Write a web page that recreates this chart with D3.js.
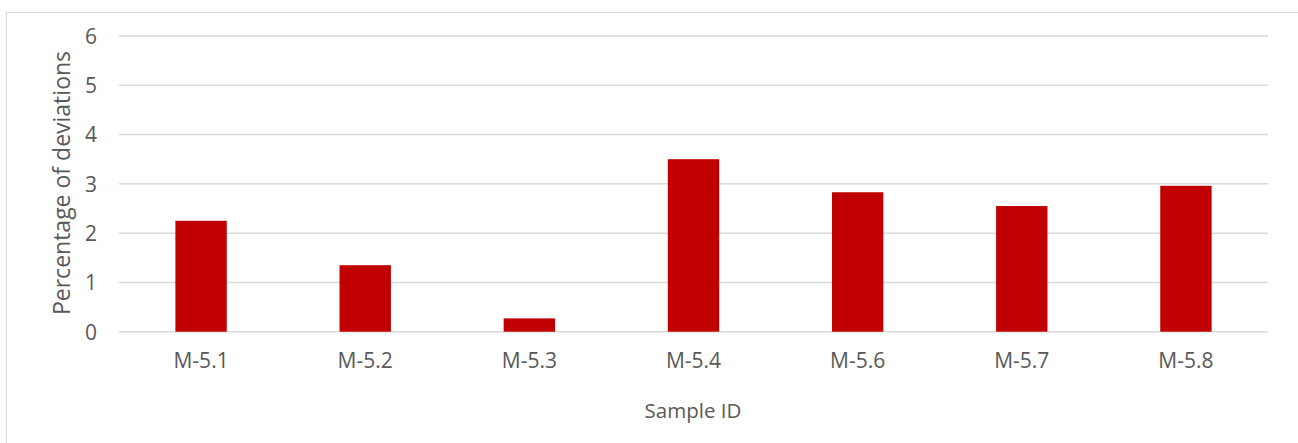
<!DOCTYPE html>
<html><head><meta charset="utf-8">
<script src="https://cdn.jsdelivr.net/npm/d3@7"></script>
<style>body{margin:0;background:#fff}svg{display:block}text{font-family:"Open Sans",sans-serif;fill:#595959}</style>
</head><body><svg id="c" width="1298" height="443"></svg>
<script>
const categories = ["M-5.1","M-5.2","M-5.3","M-5.4","M-5.6","M-5.7","M-5.8"];
const values = [2.25, 1.35, 0.27, 3.50, 2.83, 2.55, 2.96];
const yTicks = [0,1,2,3,4,5,6];
const yTitle = "Percentage of deviations";
const xTitle = "Sample ID";

(function(){
const svg = d3.select("#c");
svg.append("rect").attr("x",6.5).attr("y",12.5).attr("width",1300).attr("height",440)
  .attr("fill","#fff").attr("stroke","#d9d9d9");
const pl=119, pr=1268, pt=36, pb=331.7;
const x = d3.scaleBand().domain(categories).range([pl,pr]).paddingInner(0.687).paddingOuter(0.3435);
const y = d3.scaleLinear().domain([0,6]).range([pb,pt]);

svg.append("g").selectAll("line").data(yTicks).join("line")
  .attr("x1",pl).attr("x2",pr).attr("y1",d=>y(d)).attr("y2",d=>y(d))
  .attr("stroke","#d9d9d9").attr("stroke-width",1.5);

svg.append("g").selectAll("rect").data(values).join("rect")
  .attr("x",(d,i)=>x(categories[i])).attr("width",x.bandwidth())
  .attr("y",d=>y(d)).attr("height",d=>y(0)-y(d)).attr("fill","#c00000");

const ya = d3.axisLeft(y).tickValues(yTicks).tickSize(0).tickPadding(0).tickFormat(d3.format("d"));
const gy = svg.append("g").attr("transform",`translate(97,0)`).call(ya);
gy.select(".domain").remove();
gy.selectAll("text").style("font-size","21px").style("font-family","Open Sans").attr("fill","#595959").attr("dy","0.35em");

const xa = d3.axisBottom(x).tickSize(0).tickPadding(0);
const gx = svg.append("g").attr("transform",`translate(0,${pb+21})`).call(xa);
gx.select(".domain").remove();
gx.selectAll("text").style("font-size","21px").style("font-family","Open Sans").attr("fill","#595959").attr("dy","0.71em");

svg.append("text").attr("transform","translate(70,183) rotate(-90)").attr("text-anchor","middle")
  .style("font-size","23px").text(yTitle);
svg.append("text").attr("x",693).attr("y",418).attr("text-anchor","middle")
  .style("font-size","20.5px").text(xTitle);
})();
</script></body></html>
